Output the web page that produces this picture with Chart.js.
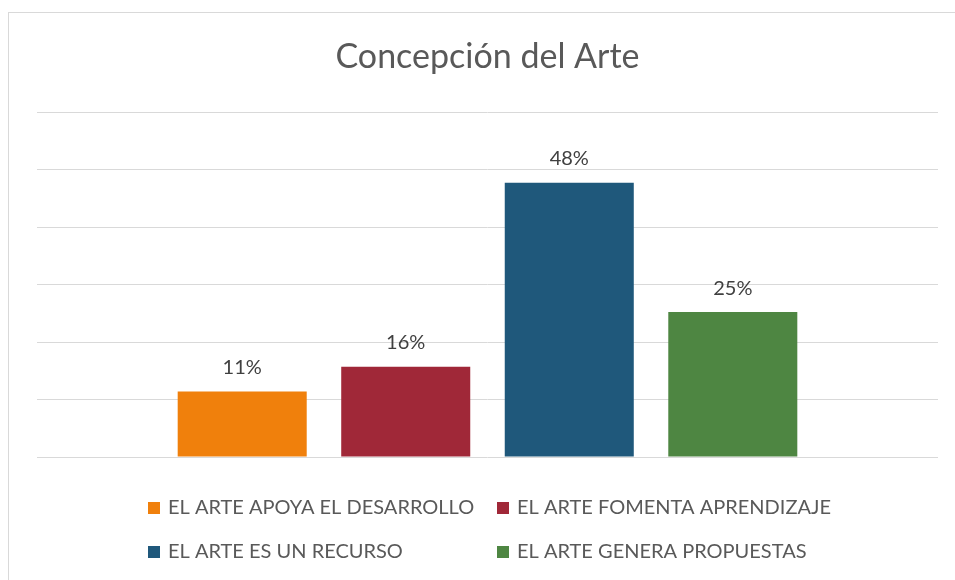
<!DOCTYPE html>
<html>
<head>
<meta charset="utf-8">
<script src="https://cdn.jsdelivr.net/npm/chart.js@4/dist/chart.umd.min.js"></script>
<style>
  html, body { margin: 0; padding: 0; background: #fff; overflow: hidden; }
  #wrap { position: relative; width: 955px; height: 580px; }
  #frame { position: absolute; left: 8px; top: 12px; width: 1000px; height: 700px; border: 1px solid #d9d9d9; box-sizing: border-box; }
  canvas { position: absolute; left: 0; top: 0; }
</style>
</head>
<body>
<div id="wrap">
  <div id="frame"></div>
  <canvas id="myChart" width="955" height="580"></canvas>
</div>
<script>
const title = 'Concepción del Arte'
const categories = ['Concepción']
const seriesNames = [
  'EL ARTE APOYA EL DESARROLLO',
  'EL ARTE FOMENTA APRENDIZAJE',
  'EL ARTE ES UN RECURSO',
  'EL ARTE GENERA PROPUESTAS',
]
const seriesValues = [11.4, 15.7, 47.7, 25.2]
const seriesColors = ['#f0800c', '#a02838', '#1f587b', '#4e8642']
const yTicks = [0, 10, 20, 30, 40, 50, 60]

const FONT = 'Lato, "Open Sans", sans-serif'

const data = {
  labels: categories,
  datasets: seriesNames.map((name, i) => ({
    label: name,
    data: [seriesValues[i]],
    backgroundColor: seriesColors[i],
    categoryPercentage: 0.726,
    barPercentage: 0.789,
  })),
}

const extras = {
  id: 'extras',
  afterDraw(chart) {
    const { ctx, chartArea } = chart
    ctx.save()
    // title
    ctx.fillStyle = '#595959'
    ctx.font = `34px ${FONT}`
    ctx.textAlign = 'center'
    ctx.textBaseline = 'middle'
    ctx.fillText(title, (chartArea.left + chartArea.right) / 2, 57)

    // value labels
    ctx.fillStyle = '#404040'
    ctx.font = `20px ${FONT}`
    chart.data.datasets.forEach((ds, i) => {
      const bar = chart.getDatasetMeta(i).data[0]
      ctx.fillText(Math.round(ds.data[0]) + '%', bar.x, bar.y - 24)
    })

    // legend, two columns
    ctx.font = `20px ${FONT}`
    ctx.textAlign = 'left'
    const colX = [148, 497]
    const rowY = [508, 552]
    chart.data.datasets.forEach((ds, i) => {
      const x = colX[i % 2]
      const y = rowY[Math.floor(i / 2)]
      ctx.fillStyle = ds.backgroundColor
      ctx.fillRect(x, y - 6, 12, 12)
      ctx.fillStyle = '#595959'
      ctx.fillText(ds.label, x + 20, y)
    })
    ctx.restore()
  },
}

const config = {
  type: 'bar',
  data: data,
  options: {
    responsive: false,
    animation: false,
    layout: { padding: { left: 37, right: 17, top: 112, bottom: 123 } },
    plugins: {
      legend: { display: false },
      title: { display: false },
      tooltip: { enabled: false },
    },
    scales: {
      x: { display: false },
      y: {
        min: yTicks[0],
        max: yTicks[yTicks.length - 1],
        afterBuildTicks: (scale) => {
          scale.ticks = yTicks.map((v) => ({ value: v }))
        },
        ticks: { display: false },
        border: { display: false },
        grid: { color: '#d9d9d9', lineWidth: 1, drawTicks: false },
      },
    },
  },
  plugins: [extras],
}

const myChart = new Chart(document.getElementById('myChart'), config)
</script>
</body>
</html>
